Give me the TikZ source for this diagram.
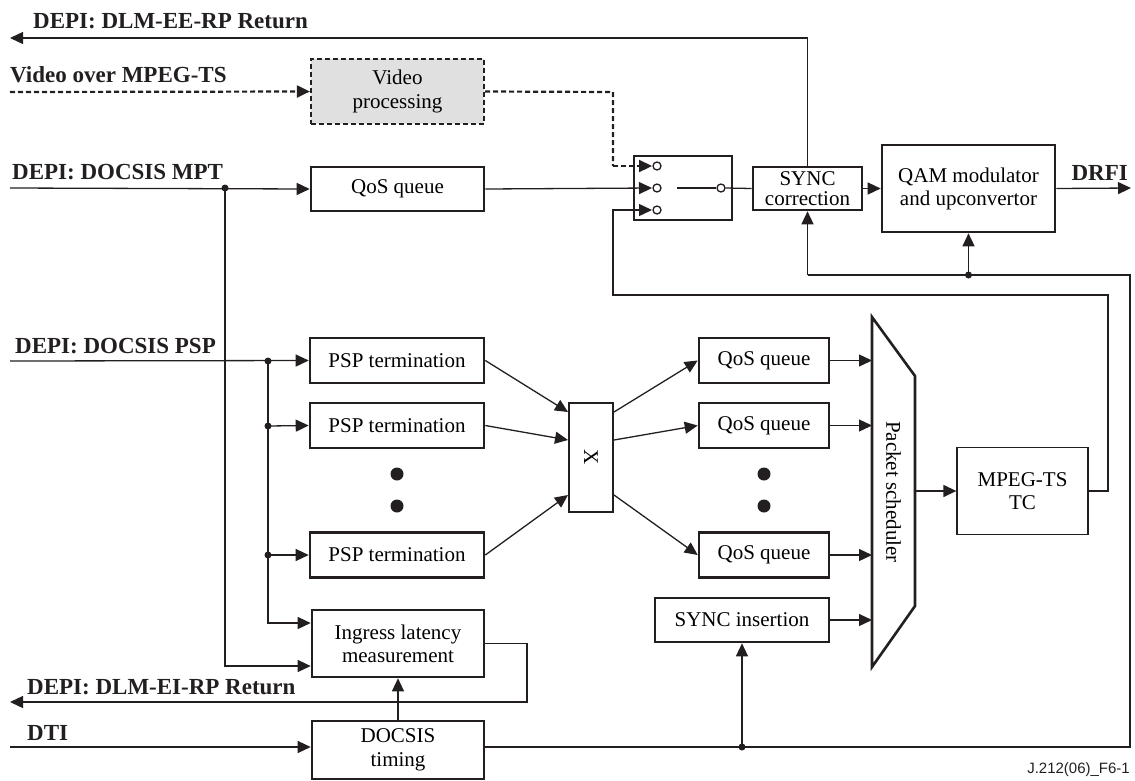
\documentclass[tikz,border=0pt]{standalone}
\usepackage{fontspec}
\setmainfont{Liberation Serif}
\newfontfamily\idsans{Liberation Sans}
\usetikzlibrary{arrows.meta}
\definecolor{ink}{HTML}{231F20}
\definecolor{shade}{HTML}{E0E0E0}

\begin{document}
\begin{tikzpicture}[x=1pt,y=-1pt,
  every node/.style={inner sep=0pt},
  tip/.style={-{Triangle[length=13pt,width=12pt]}},
  wire/.style={draw=ink,line width=1.3pt},
  flow/.style={wire,tip},
  vidwire/.style={draw=ink,line width=2.2pt,dash pattern=on 5pt off 3pt},
  blk/.style={draw=ink,line width=2.6pt,fill=white,align=center,
              font=\fontsize{21}{23}\selectfont},
  lightblk/.style={draw=ink,line width=1.3pt,fill=white,align=center,
              font=\fontsize{21}{23}\selectfont},
  extlabel/.style={font=\fontsize{23}{25}\selectfont\bfseries,text=ink},
  jdot/.style={circle,fill=ink,minimum size=7pt},
  bigdot/.style={circle,fill=ink,minimum size=13pt},
  tap/.style={circle,draw=ink,line width=1.3pt,fill=white,minimum size=8pt},
]
\useasboundingbox (0,0) rectangle (1135,780);

% ---------- blocks ----------
\node[blk,vidwire,fill=shade,minimum width=173pt,minimum height=65pt,
      font=\fontsize{21}{24}\selectfont]
  (vid) at (397.5,91.5) {Video\\processing};
\node[blk,minimum width=173pt,minimum height=44pt] (qos0) at (397.5,189) {QoS queue};
\node[lightblk,minimum width=98pt,minimum height=64pt] (sw) at (683,188) {};
\node[blk,minimum width=109pt,minimum height=43pt,
      font=\fontsize{21}{20}\selectfont] (syncc) at (807.5,188.5) {SYNC\\correction};
\node[blk,minimum width=173pt,minimum height=87pt] (qam) at (968.5,188.5)
  {QAM modulator\\and upconvertor};

\foreach \n/\y in {1/360.5,2/425.5,3/555}{
  \node[blk,minimum width=174pt,minimum height=45pt] (psp\n) at (397,\y) {PSP termination};
  \node[blk,minimum width=130pt,minimum height=45pt] (q\n) at (764,\y) {QoS queue};
}
\node[bigdot] (pd1) at (397,474) {};
\node[bigdot] (pd2) at (397,506) {};
\node[bigdot] (qd1) at (764,474) {};
\node[bigdot] (qd2) at (764,506) {};

\node[blk,line width=2pt,minimum width=44pt,minimum height=109pt] (xb) at (591,457.5) {};
\node[rotate=-90,font=\fontsize{21}{23}\selectfont] (xlbl) at (xb) {X};

\node[blk,minimum width=174pt,minimum height=44pt] (synci) at (742,620) {SYNC insertion};

% packet scheduler
\draw[ink,line width=2.6pt,line join=miter]
  (872,317) coordinate (schTL) -- (915,376) coordinate (schTR)
  -- (915,606) coordinate (schBR) -- (872,667) coordinate (schBL) -- cycle;
\node[rotate=-90,font=\fontsize{21}{23}\selectfont] (schlbl) at (893.5,492) {Packet scheduler};

\node[lightblk,minimum width=131pt,minimum height=87pt] (mpeg) at (1022.5,491)
  {MPEG-TS\\TC};

\node[blk,minimum width=172pt,minimum height=67pt] (ingress) at (398,643.5)
  {Ingress latency\\measurement};
\node[blk,minimum width=172pt,minimum height=58pt,
      font=\fontsize{21}{24}\selectfont] (docsis) at (398,750)
  {DOCSIS\\timing};

% ---------- external labels ----------
\node[extlabel,anchor=base west] (lblEE) at (33,28) {DEPI: DLM-EE-RP Return};
\node[extlabel,anchor=base west] (lblVid) at (10,82) {Video over MPEG-TS};
\node[extlabel,anchor=base west] (lblMPT) at (12,179) {DEPI: DOCSIS MPT};
\node[extlabel,anchor=base west] (lblPSP) at (15,353) {DEPI: DOCSIS PSP};
\node[extlabel,anchor=base west] (lblEI) at (27,694) {DEPI: DLM-EI-RP Return};
\node[extlabel,anchor=base west] (lblDTI) at (27,740) {DTI};
\node[extlabel,anchor=base east] (lblDRFI) at (1128,180) {DRFI};
\node[anchor=base east,text=ink,font=\idsans\fontsize{15}{17}\selectfont] (figid)
  at (1130,773) {J.212(06)\_F6-1};

% ---------- free ends and bends ----------
\coordinate (eeEnd) at (10,38);
\coordinate (vidIn) at (10,92);
\coordinate (mptIn) at (10,188);
\coordinate (pspIn) at (10,361);
\coordinate (eiEnd) at (10,702);
\coordinate (dtiIn) at (10,747);
\coordinate (drfiEnd) at (1131,188);

% switch inputs, taps and arm
\foreach \i/\y in {1/166,2/188,3/210}{
  \coordinate (swin\i) at (652,\y);
  \node[tap] (tap\i) at (657,\y) {};
}
\node[tap] (swout) at (721,188) {};
\draw[wire] (677,188) -- (swout.west);
\draw[wire] (swout.east) -- (syncc.west);

% ---------- connectors ----------
% return of end-to-end latency
\draw[flow] (syncc.north) -- (syncc.north |- eeEnd) -- (eeEnd);
% video path (dashed)
\draw[vidwire,tip] (vidIn) -- (vid.west);
\draw[vidwire] (vid.east) -- (613,92) -- (613,166);
\draw[vidwire,tip] (613,166) -- (swin1);
% MPT path
\node[jdot] (jmpt) at (225,188) {};
\draw[flow] (mptIn) -- (qos0.west);
\draw[flow] (qos0.east) -- (swin2);
\draw[flow] (jmpt.center) -- (225,666) -- (ingress.west |- 0,666);
% QAM chain
\draw[flow] (syncc.east) -- (qam.west);
\draw[flow] (qam.east) -- (drfiEnd);
% PSP fan-out
\node[jdot] (jp1) at (268,361) {};
\node[jdot] (jp2) at (268,426) {};
\node[jdot] (jp3) at (268,555) {};
\draw[flow] (pspIn) -- (psp1.west);
\draw[flow] (jp2.center) -- (psp2.west);
\draw[flow] (jp3.center) -- (psp3.west);
\draw[flow] (jp1.center) -- (268,623) -- (ingress.west |- 0,623);
% PSP into crossbar
\draw[flow] (psp1.east) -- (xb.west |- 0,412);
\draw[flow] (psp2.east) -- (xb.west |- 0,440);
\draw[flow] (psp3.east) -- (xb.west |- 0,495);
% crossbar to queues
\draw[flow] (xb.east |- 0,412) -- (q1.west);
\draw[flow] (xb.east |- 0,440) -- (q2.west);
\draw[flow] (xb.east |- 0,495) -- (q3.west);
% queues into the scheduler
\draw[flow] (q1.east) -- (schTL |- q1.east);
\draw[flow] (q2.east) -- (schTL |- q2.east);
\draw[flow] (q3.east) -- (schTL |- q3.east);
\draw[flow] (synci.east) -- (schTL |- synci.east);
\draw[flow] (schTR |- mpeg.west) -- (mpeg.west);
% MPEG-TS TC back to the switch
\draw[flow] (mpeg.east) -- (1108,491) -- (1108,295) -- (613,295) -- (613,210) -- (swin3);
% ingress latency return
\draw[flow] (ingress.east) -- (527,643.5) -- (527,702) -- (eiEnd);
% DOCSIS timing distribution
\draw[flow] (dtiIn) -- (docsis.west |- dtiIn);
\draw[flow] (docsis.north) -- (ingress.south);
\node[jdot] (jt1) at (742,747) {};
\node[jdot] (jt2) at (968.5,275) {};
\draw[wire] (docsis.east |- dtiIn) -- (1130,747) -- (1130,275) -- (807.5,275);
\draw[flow] (807.5,275) -- (syncc.south);
\draw[flow] (jt2.center) -- (qam.south);
\draw[flow] (jt1.center) -- (synci.south);
\end{tikzpicture}
\end{document}
